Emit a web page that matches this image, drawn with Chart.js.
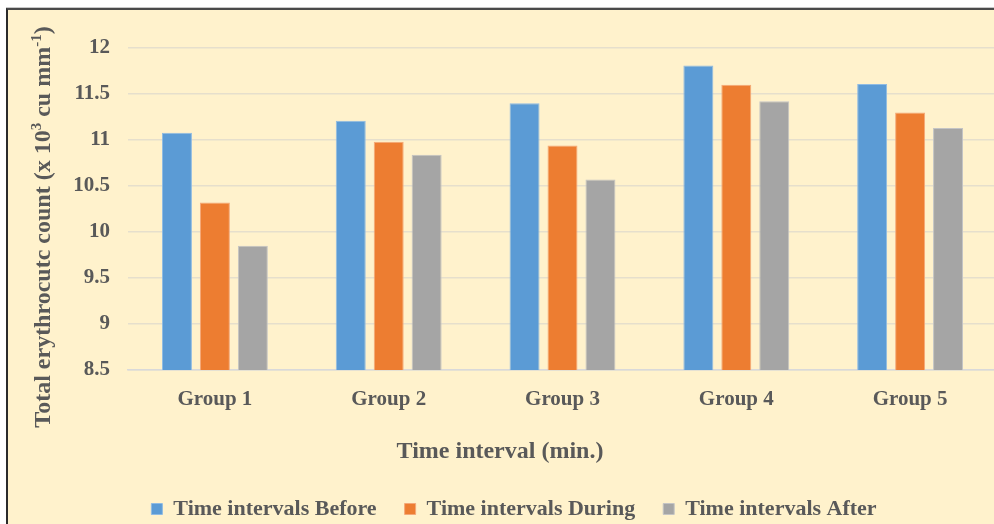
<!DOCTYPE html>
<html>
<head>
<meta charset="utf-8">
<script src="https://cdn.jsdelivr.net/npm/chart.js@4/dist/chart.umd.min.js"></script>
<style>
  html, body { margin: 0; padding: 0; background: #ffffff; overflow: hidden; width: 994px; height: 524px; }
  #frame {
    position: absolute; left: 6px; top: 8px;
    width: 1040px; height: 560px;
    background: #fff2cc;
    border-left: 2px solid #2b2b2b;
    border-top: 2px solid #4a4a4a;
    box-shadow: 0 -1px 0 #c8c8c8;
  }
  #chart { position: absolute; left: 0; top: 0; }
</style>
</head>
<body>
<div id="frame"><canvas id="chart" width="1017" height="520"></canvas></div>
<script>
// Erythrocyte counts per group, before / during / after the time interval
const categories = ['Group 1', 'Group 2', 'Group 3', 'Group 4', 'Group 5'];
const seriesNames = ['Time intervals Before', 'Time intervals During', 'Time intervals After'];
const before = [11.08, 11.21, 11.40, 11.81, 11.61];
const during = [10.32, 10.98, 10.94, 11.60, 11.30];
const after  = [9.85, 10.84, 10.57, 11.42, 11.13];
const yTicks = [8.5, 9, 9.5, 10, 10.5, 11, 11.5, 12];

// y-axis title pieces: [text, superscript?]
const yTitleParts = [
  ['Total erythrocutc count (x 10', false],
  ['3', true],
  [' cu mm', false],
  ['-1', true],
  [')', false]
];

const fillColors = ['#5b9bd5', '#ed7d31', '#a5a5a5'];
const edgeColors = ['#8fbbe3', '#f4a878', '#c4c4c4'];
const textColor = '#595959';
const serif = "'Liberation Serif', 'Times New Roman', serif";

const seriesValues = [before, during, after];
const datasets = seriesValues.map((vals, i) => ({
  label: seriesNames[i],
  data: vals,
  backgroundColor: fillColors[i],
  borderColor: edgeColors[i],
  borderWidth: 1,
  categoryPercentage: 0.655,
  barPercentage: 0.79
}));

// Rotated y-axis title with real superscripts
const yTitlePlugin = {
  id: 'yTitleSup',
  afterDraw(chart) {
    const ctx = chart.ctx;
    const mainFont = 'bold 24px ' + serif;
    const supFont = 'bold 15px ' + serif;
    ctx.save();
    let total = 0;
    const widths = yTitleParts.map(([t, sup]) => {
      ctx.font = sup ? supFont : mainFont;
      const w = ctx.measureText(t).width;
      total += w;
      return w;
    });
    const cx = chart.scales.y.left + 19;
    const cy = (chart.chartArea.top + chart.chartArea.bottom) / 2 + 18;
    ctx.translate(cx, cy);
    ctx.rotate(-Math.PI / 2);
    ctx.fillStyle = textColor;
    ctx.textBaseline = 'middle';
    ctx.textAlign = 'left';
    let x = -total / 2;
    yTitleParts.forEach(([t, sup], i) => {
      ctx.font = sup ? supFont : mainFont;
      ctx.fillText(t, x, sup ? -7 : 0);
      x += widths[i];
    });
    ctx.restore();
  }
};

// Nudge the bottom title and legend horizontally after layout
const bottomNudgePlugin = {
  id: 'bottomNudge',
  afterLayout(chart) {
    const t = chart.titleBlock;
    if (t) { t.left -= 11; t.right -= 11; }
    const l = chart.legend;
    if (l) { l.left += 3; l.right += 3; }
  }
};

new Chart(document.getElementById('chart'), {
  type: 'bar',
  data: { labels: categories, datasets },
  plugins: [yTitlePlugin, bottomNudgePlugin],
  options: {
    responsive: false,
    animation: false,
    layout: { padding: { top: 38, left: 17, right: 28, bottom: 0 } },
    scales: {
      x: {
        grid: { display: false, drawTicks: false },
        border: { display: true, color: '#d9d9d9', width: 1.5 },
        ticks: {
          color: textColor,
          padding: 17,
          font: { family: serif, size: 21, weight: 'bold' }
        }
      },
      y: {
        min: yTicks[0],
        max: yTicks[yTicks.length - 1],
        afterBuildTicks: (scale) => { scale.ticks = yTicks.map(v => ({ value: v })); },
        afterFit: (scale) => { scale.width = 103; },
        grid: { color: '#e6dfcc', lineWidth: 1.5, drawTicks: false },
        border: { display: false },
        ticks: {
          color: textColor,
          padding: 18,
          callback: (v) => String(v),
          font: { family: serif, size: 21, weight: 'bold' }
        }
      }
    },
    plugins: {
      tooltip: { enabled: false },
      title: {
        display: true,
        position: 'bottom',
        weight: 500,
        text: 'Time interval (min.)',
        color: textColor,
        padding: { top: 8, bottom: 4 },
        font: { family: serif, size: 24, weight: 'bold' }
      },
      legend: {
        position: 'bottom',
        weight: 1000,
        labels: {
          color: textColor,
          boxWidth: 11,
          boxHeight: 11,
          padding: 28,
          font: { family: serif, size: 22, weight: 'bold' }
        }
      }
    }
  }
});
</script>
</body>
</html>
